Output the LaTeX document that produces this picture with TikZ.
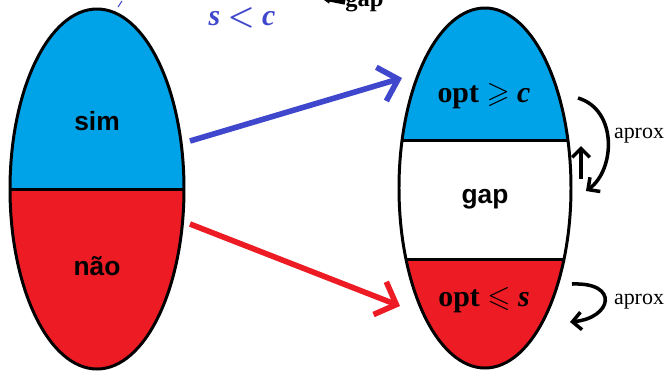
\documentclass[tikz,border=0pt]{standalone}
\usepackage{amsmath, amssymb}
\usepackage{fontspec}
\setmainfont{Liberation Serif}
\setsansfont{Liberation Sans}
\usepackage{xcolor}
\usepackage{tikz}
\usetikzlibrary{arrows.meta, positioning, calc}

\definecolor{simblue}{HTML}{00A2E8}
\definecolor{naored}{HTML}{ED1C24}
\definecolor{mapblue}{HTML}{3F48CC}

\begin{document}
\begin{tikzpicture}[
    x=0.02cm, y=-0.02cm,
    region/.style={draw=black, line width=1.7pt},
    maparrow/.style={line width=3.2pt, -{Straight Barb[length=10pt, width=20pt, line width=3.2pt]}},
    loop/.style={line width=2pt, -{Straight Barb[length=5pt, width=10pt, line width=2pt]}},
    sanslabel/.style={font=\sffamily\bfseries\fontsize{15}{18}\selectfont},
    seriflabel/.style={font=\bfseries\fontsize{17}{20}\selectfont},
    note/.style={font=\fontsize{12.5}{15}\selectfont}
]
    \useasboundingbox (0,0) rectangle (667,370);

    % left set
    \begin{scope}
        \clip (97,189) ellipse [x radius=87, y radius=180];
        \fill[simblue] (0,0) rectangle (200,189);
        \fill[naored] (0,189) rectangle (200,370);
        \draw[region] (0,189) -- (200,189);
    \end{scope}
    \draw[region] (97,189) ellipse [x radius=87, y radius=180];

    % right set
    \begin{scope}
        \clip (485,188) ellipse [x radius=86, y radius=180];
        \fill[simblue] (390,0) rectangle (580,140);
        \fill[naored] (390,259) rectangle (580,370);
        \draw[region] (390,140) -- (580,140);
        \draw[region] (390,259) -- (580,259);
    \end{scope}
    \draw[region] (485,188) ellipse [x radius=86, y radius=180];

    \node[sanslabel] (sim) at (97,121) {sim};
    \node[sanslabel] (nao) at (97,266) {não};
    \node[sanslabel] (gap) at (485,199) {gap};
    \node[seriflabel] (optc) at (484,96) {opt $\boldsymbol{\geqslant}$ \textit{c}};
    \node[seriflabel] (opts) at (484,300) {opt $\boldsymbol{\leqslant}$ \textit{s}};
    \node[seriflabel, text=mapblue] (sc) at (242,18) {\textit{s} $\boldsymbol{<}$ \textit{c}};
    \node[note] (aprox1) at (639,136) {aprox};
    \node[note] (aprox2) at (639,302) {aprox};

    % maps between the sets
    \coordinate (simout) at (190,141);
    \coordinate (simin) at (402,78);
    \coordinate (naoout) at (190,224);
    \coordinate (naoin) at (400,306);
    \draw[maparrow, mapblue] (simout) -- (simin);
    \draw[maparrow, naored] (naoout) -- (naoin);

    % approximation loops
    \coordinate (l1a) at (578,98);
    \coordinate (l1b) at (586,191);
    \draw[loop] (l1a) .. controls (618,110) and (615,170) .. (l1b);
    \coordinate (upa) at (581,179);
    \coordinate (upb) at (581,146);
    \draw[loop] (upa) -- (upb);
    \coordinate (l2a) at (572,284);
    \coordinate (l2b) at (570,322);
    \draw[loop] (l2a) .. controls (620,282) and (612,318) .. (l2b);

    % cut-off top labels
    \node[font=\bfseries\fontsize{14}{16}\selectfont, anchor=base west, inner sep=0pt] (topgap) at (345,6) {gap};
    \coordinate (topgaptip) at (318,-3);
    \draw[line width=2.6pt, -{Latex[length=7pt]}] (topgap.west) -- (topgaptip);
    \draw[mapblue, line width=0.6pt] (118,7) -- (122,1);
\end{tikzpicture}
\end{document}
